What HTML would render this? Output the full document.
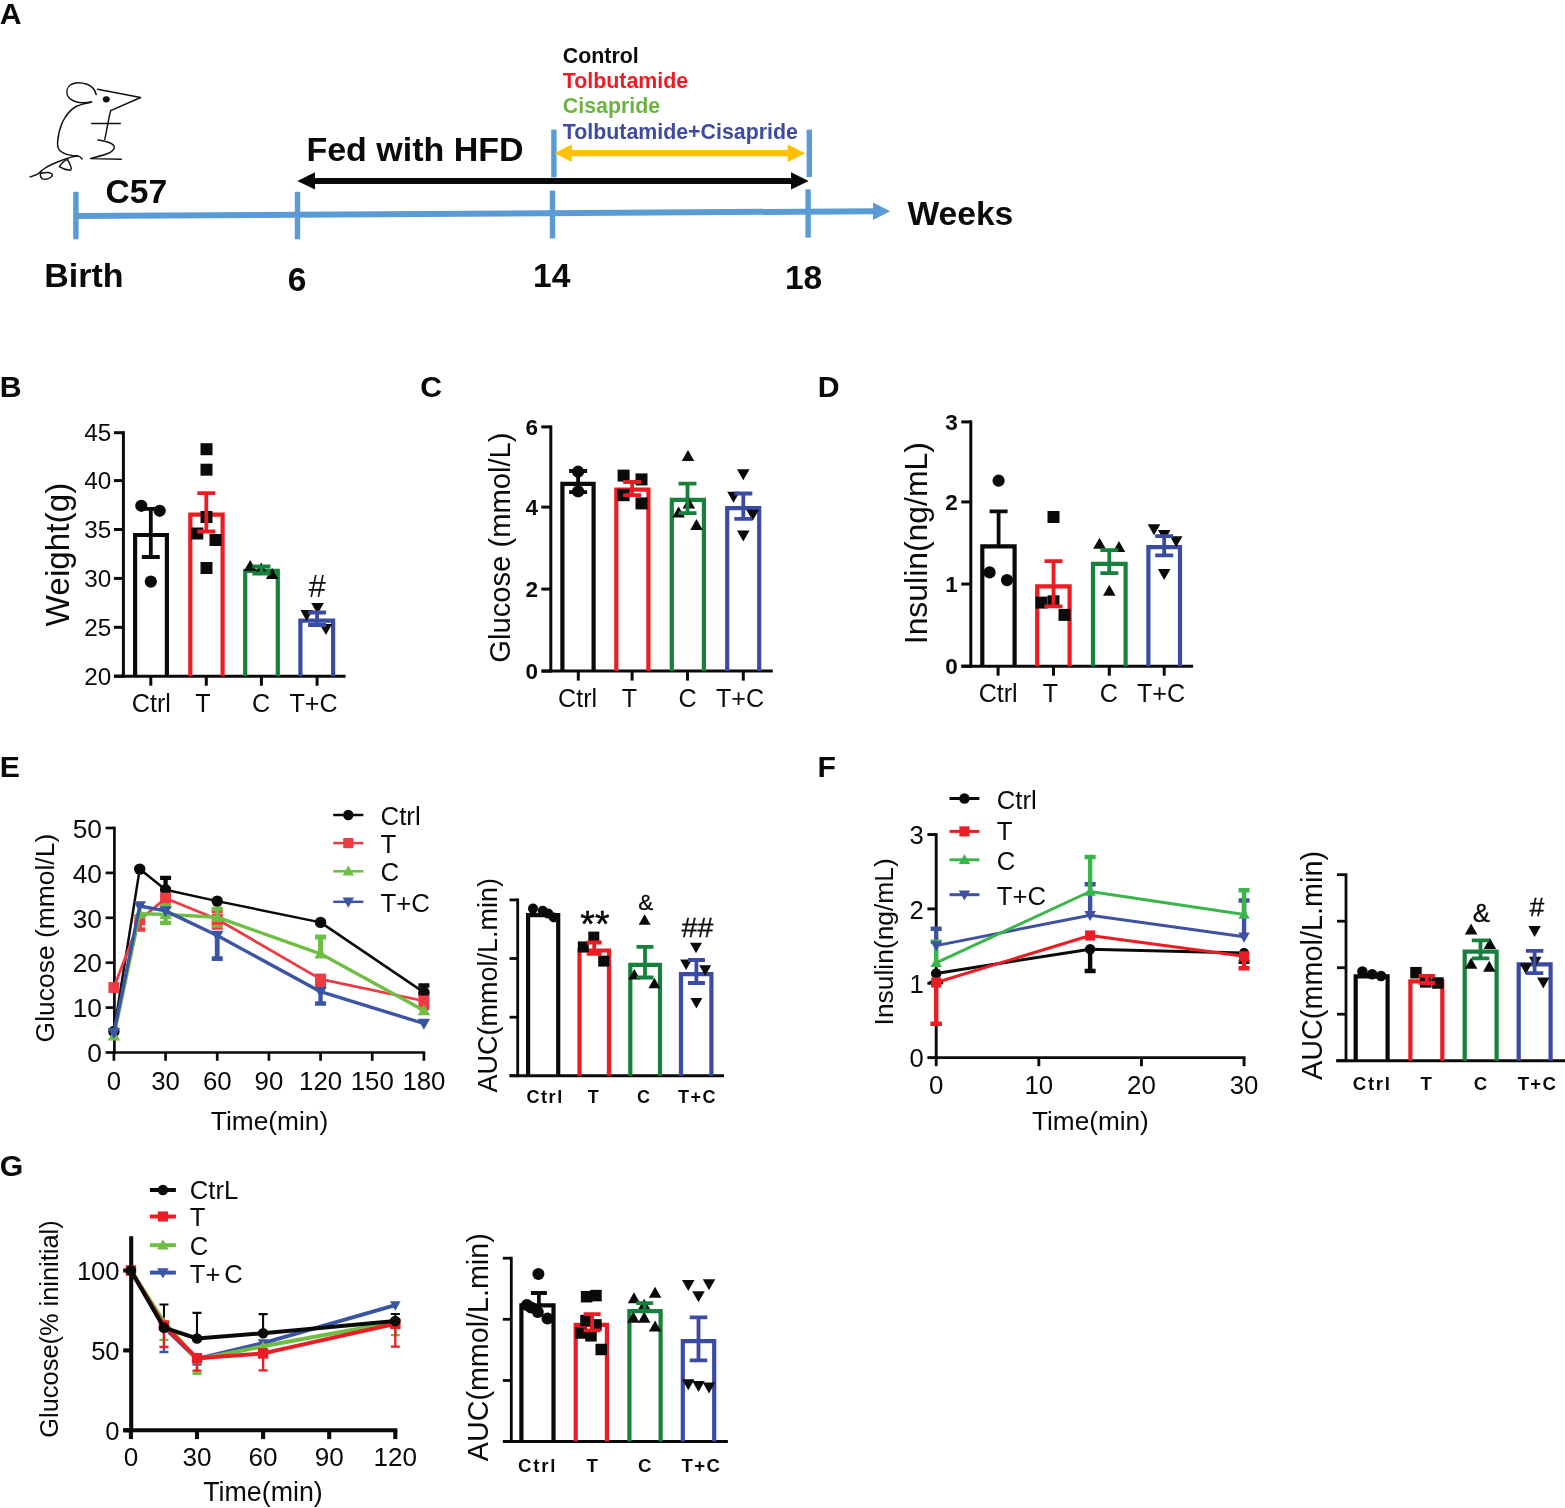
<!DOCTYPE html>
<html lang="en"><head><meta charset="utf-8"><title>Figure</title>
<style>
html,body{margin:0;padding:0;background:#fff;}
body{width:1565px;height:1508px;overflow:hidden;}
svg{display:block;font-family:"Liberation Sans",Arial,Helvetica,sans-serif;}
</style></head><body>
<svg width="1565" height="1508" viewBox="0 0 1565 1508">
<rect width="1565" height="1508" fill="#ffffff"/>
<text x="-0.3" y="24" font-size="30.2" font-weight="bold" text-anchor="start" fill="#0a0a0a">A</text>
<text x="-0.2" y="397.2" font-size="30.2" font-weight="bold" text-anchor="start" fill="#0a0a0a">B</text>
<text x="420.3" y="397.2" font-size="30.2" font-weight="bold" text-anchor="start" fill="#0a0a0a">C</text>
<text x="817.8" y="397.2" font-size="30.2" font-weight="bold" text-anchor="start" fill="#0a0a0a">D</text>
<text x="-0.2" y="777" font-size="30.2" font-weight="bold" text-anchor="start" fill="#0a0a0a">E</text>
<text x="817.4" y="777" font-size="30.2" font-weight="bold" text-anchor="start" fill="#0a0a0a">F</text>
<text x="-0.2" y="1176" font-size="30.2" font-weight="bold" text-anchor="start" fill="#0a0a0a">G</text>
<g id="panelA">
<line x1="75.9" y1="216" x2="875" y2="211.2" stroke="#5b9bd5" stroke-width="6" stroke-linecap="butt"/>
<polygon points="873,202.4 890.2,211.2 873,220.1" fill="#5b9bd5"/>
<line x1="75.9" y1="191.8" x2="75.9" y2="239.3" stroke="#5b9bd5" stroke-width="5.4" stroke-linecap="butt"/>
<line x1="297.5" y1="191.8" x2="297.5" y2="239.3" stroke="#5b9bd5" stroke-width="5.4" stroke-linecap="butt"/>
<line x1="552.5" y1="190.7" x2="552.5" y2="238.4" stroke="#5b9bd5" stroke-width="5.4" stroke-linecap="butt"/>
<line x1="808.1" y1="189.3" x2="808.1" y2="237.6" stroke="#5b9bd5" stroke-width="5.4" stroke-linecap="butt"/>
<line x1="553.9" y1="129.6" x2="553.9" y2="177.3" stroke="#5b9bd5" stroke-width="5.4" stroke-linecap="butt"/>
<line x1="809.3" y1="129.6" x2="809.3" y2="177.1" stroke="#5b9bd5" stroke-width="5.4" stroke-linecap="butt"/>
<line x1="570" y1="153.2" x2="790" y2="153.2" stroke="#ffc000" stroke-width="6.3" stroke-linecap="butt"/>
<polygon points="554.5,153.2 571.8,144.5 571.8,162" fill="#ffc000"/>
<polygon points="805.1,153.2 787.7,144.5 787.7,162" fill="#ffc000"/>
<line x1="313" y1="180.9" x2="793" y2="180.9" stroke="#0a0a0a" stroke-width="6" stroke-linecap="butt"/>
<polygon points="297.3,180.9 315,172.2 315,189.6" fill="#0a0a0a"/>
<polygon points="808.7,180.9 791,172.2 791,189.6" fill="#0a0a0a"/>
<text x="562.8" y="62.6" font-size="21.35" font-weight="bold" text-anchor="start" fill="#0a0a0a">Control</text>
<text x="562.8" y="87.8" font-size="21.35" font-weight="bold" text-anchor="start" fill="#ed1c24">Tolbutamide</text>
<text x="562.8" y="112.8" font-size="21.35" font-weight="bold" text-anchor="start" fill="#6cb33f">Cisapride</text>
<text x="562.8" y="139" font-size="21.35" font-weight="bold" text-anchor="start" fill="#3d4ba0">Tolbutamide+Cisapride</text>
<text x="306.4" y="161" font-size="34" font-weight="bold" text-anchor="start" fill="#0a0a0a">Fed with HFD</text>
<text x="105.5" y="203.2" font-size="33.6" font-weight="bold" text-anchor="start" fill="#0a0a0a">C57</text>
<text x="44.2" y="287" font-size="34" font-weight="bold" text-anchor="start" fill="#0a0a0a">Birth</text>
<text x="297" y="290.5" font-size="33.6" font-weight="bold" text-anchor="middle" fill="#0a0a0a">6</text>
<text x="551.8" y="287.2" font-size="33.6" font-weight="bold" text-anchor="middle" fill="#0a0a0a">14</text>
<text x="803.6" y="288.6" font-size="33.6" font-weight="bold" text-anchor="middle" fill="#0a0a0a">18</text>
<text x="907.5" y="225" font-size="33.6" font-weight="bold" text-anchor="start" fill="#0a0a0a">Weeks</text>
<g fill="none" stroke="#111" stroke-width="1.45" stroke-linecap="round" stroke-linejoin="round">
<path d="M96.2 94.5 C95 90 92 86 87 84.2 C82 82.6 75 82.3 71 84.5 C67 87 66 91.5 67.5 95.5 C69.5 100 76 102.6 82 102.8 C86 103 89 102.5 91.6 102"/>
<path d="M97.6 89.3 L140.6 97.5 L110.7 110.6"/>
<path d="M91.6 102 C85 103.5 80 104.5 76 106.5 C70 110 65.5 116 62.5 122 C59.5 129 58 136 57.6 142 C57.3 147 58.5 150 61 151.5 C64 153.8 68 155 72 155.5 C75 155.8 78 155.6 79.5 156.5 C80.7 157.3 81.5 158.3 82.1 159"/>
<path d="M110.7 110.6 C109.8 114 109.3 116 109 118 C107.5 126 106 133 104.8 139.3"/>
<path d="M91.6 123.5 L120.3 123.5"/>
<path d="M97.6 139.9 C101 140.5 105 141 108.4 142.2 C112 143.5 114.5 145 114.3 147.5 C114 150 112 151.5 109 153 C103 155.5 96 157 90.4 158.6 L121.3 159.3"/>
<path d="M77.5 155.8 C73 156.5 68 158 62 160.3 C56 162.5 49 165.5 44.5 168.5 C41 171 39.5 173 37.5 174.2 C35 175.5 32 176.3 30.1 176.9"/>
<path d="M68 158.8 C64 161 60.5 164 59.4 166.7 C62 168.5 66 170 69.5 170.3 C71.5 170 71.5 168.5 70.8 166.5 C70 164 68.8 161.5 67.5 159.8"/>
<path d="M41 171.2 C40 174 40.3 177 42 178.6 C44.5 179.8 48 179 50.5 177.5 C52.5 176.3 53 174.8 51.5 173.5 C49 172 45 172.3 41.5 173.3"/>
</g>
<ellipse cx="106.3" cy="99.3" rx="3.5" ry="3.1" fill="#111"/>
</g>
<g id="panelB">
<line x1="123.4" y1="431.2" x2="123.4" y2="677.7" stroke="#0a0a0a" stroke-width="3" stroke-linecap="butt"/>
<line x1="113.9" y1="676.2" x2="123.4" y2="676.2" stroke="#0a0a0a" stroke-width="3" stroke-linecap="butt"/>
<text x="111.4" y="684.5" font-size="24.3" font-weight="normal" text-anchor="end" fill="#0a0a0a">20</text>
<line x1="113.9" y1="627.3" x2="123.4" y2="627.3" stroke="#0a0a0a" stroke-width="3" stroke-linecap="butt"/>
<text x="111.4" y="635.6" font-size="24.3" font-weight="normal" text-anchor="end" fill="#0a0a0a">25</text>
<line x1="113.9" y1="578.4" x2="123.4" y2="578.4" stroke="#0a0a0a" stroke-width="3" stroke-linecap="butt"/>
<text x="111.4" y="586.7" font-size="24.3" font-weight="normal" text-anchor="end" fill="#0a0a0a">30</text>
<line x1="113.9" y1="529.5" x2="123.4" y2="529.5" stroke="#0a0a0a" stroke-width="3" stroke-linecap="butt"/>
<text x="111.4" y="537.8" font-size="24.3" font-weight="normal" text-anchor="end" fill="#0a0a0a">35</text>
<line x1="113.9" y1="480.6" x2="123.4" y2="480.6" stroke="#0a0a0a" stroke-width="3" stroke-linecap="butt"/>
<text x="111.4" y="488.9" font-size="24.3" font-weight="normal" text-anchor="end" fill="#0a0a0a">40</text>
<line x1="113.9" y1="432.7" x2="123.4" y2="432.7" stroke="#0a0a0a" stroke-width="3" stroke-linecap="butt"/>
<text x="111.4" y="441" font-size="24.3" font-weight="normal" text-anchor="end" fill="#0a0a0a">45</text>
<line x1="114.2" y1="676.2" x2="345.6" y2="676.2" stroke="#0a0a0a" stroke-width="3" stroke-linecap="butt"/>
<line x1="150.8" y1="676.2" x2="150.8" y2="685.7" stroke="#0a0a0a" stroke-width="3" stroke-linecap="butt"/>
<line x1="206.3" y1="676.2" x2="206.3" y2="685.7" stroke="#0a0a0a" stroke-width="3" stroke-linecap="butt"/>
<line x1="261.4" y1="676.2" x2="261.4" y2="685.7" stroke="#0a0a0a" stroke-width="3" stroke-linecap="butt"/>
<line x1="317.1" y1="676.2" x2="317.1" y2="685.7" stroke="#0a0a0a" stroke-width="3" stroke-linecap="butt"/>
<text x="69.3" y="554.6" font-size="33.3" font-weight="normal" text-anchor="middle" fill="#0a0a0a" transform="rotate(-90 69.3 554.6)">Weight(g)</text>
<text x="151.3" y="712.3" font-size="25.1" font-weight="normal" text-anchor="middle" fill="#0a0a0a">Ctrl</text>
<text x="203" y="712.3" font-size="25.1" font-weight="normal" text-anchor="middle" fill="#0a0a0a">T</text>
<text x="261" y="712.3" font-size="25.1" font-weight="normal" text-anchor="middle" fill="#0a0a0a">C</text>
<text x="313.5" y="712.3" font-size="25.1" font-weight="normal" text-anchor="middle" fill="#0a0a0a">T+C</text>
<path d="M135.1 676.2 V535 H166.9 V676.2" fill="none" stroke="#0a0a0a" stroke-width="4.2" stroke-linejoin="miter"/>
<path d="M190.3 676.2 V514.6 H222.6 V676.2" fill="none" stroke="#ec1c24" stroke-width="4.2" stroke-linejoin="miter"/>
<path d="M245.2 676.2 V570.8 H277.8 V676.2" fill="none" stroke="#17803d" stroke-width="4.2" stroke-linejoin="miter"/>
<path d="M300.4 676.2 V620.6 H333.1 V676.2" fill="none" stroke="#3b4ba3" stroke-width="4.2" stroke-linejoin="miter"/>
<circle cx="141.3" cy="505.8" r="6.1" fill="#0a0a0a"/>
<circle cx="159.7" cy="510.8" r="6.1" fill="#0a0a0a"/>
<circle cx="150.8" cy="581.6" r="6.1" fill="#0a0a0a"/>
<rect x="200.5" y="443.2" width="12" height="12" fill="#0a0a0a"/>
<rect x="200.5" y="463.7" width="12" height="12" fill="#0a0a0a"/>
<rect x="200.5" y="511" width="12" height="12" fill="#0a0a0a"/>
<rect x="191.3" y="527.5" width="12" height="12" fill="#0a0a0a"/>
<rect x="209.5" y="534" width="12" height="12" fill="#0a0a0a"/>
<rect x="200.5" y="562" width="12" height="12" fill="#0a0a0a"/>
<polygon points="250.2,560 243.9,571 256.5,571" fill="#0a0a0a"/>
<polygon points="261.2,562.5 254.9,573.5 267.5,573.5" fill="#0a0a0a"/>
<polygon points="272.2,568 265.9,579 278.5,579" fill="#0a0a0a"/>
<polygon points="317.5,614 311.2,603 323.8,603" fill="#0a0a0a"/>
<polygon points="306.7,621 300.4,610 313,610" fill="#0a0a0a"/>
<polygon points="325.9,635 319.6,624 332.2,624" fill="#0a0a0a"/>
<text x="317" y="597" font-size="31" font-weight="normal" text-anchor="middle" fill="#0a0a0a">#</text>
<path d="M141.8 508.8 H159.8 M141.8 557 H159.8 M150.8 508.8 V557" fill="none" stroke="#0a0a0a" stroke-width="3.8"/>
<path d="M197.3 493.2 H215.3 M197.3 531.5 H215.3 M206.3 493.2 V531.5" fill="none" stroke="#ec1c24" stroke-width="3.8"/>
<path d="M252.4 566.5 H270.4 M252.4 573.5 H270.4 M261.4 566.5 V573.5" fill="none" stroke="#17803d" stroke-width="3.8"/>
<path d="M308.1 612.5 H326.1 M308.1 625 H326.1 M317.1 612.5 V625" fill="none" stroke="#3b4ba3" stroke-width="3.8"/>
</g>
<g id="panelC">
<line x1="550.8" y1="425.4" x2="550.8" y2="672.6" stroke="#0a0a0a" stroke-width="3" stroke-linecap="butt"/>
<line x1="541.3" y1="671.1" x2="550.8" y2="671.1" stroke="#0a0a0a" stroke-width="3" stroke-linecap="butt"/>
<text x="537.9" y="679.36" font-size="22.5" font-weight="bold" text-anchor="end" fill="#0a0a0a">0</text>
<line x1="541.3" y1="589.1" x2="550.8" y2="589.1" stroke="#0a0a0a" stroke-width="3" stroke-linecap="butt"/>
<text x="537.9" y="597.36" font-size="22.5" font-weight="bold" text-anchor="end" fill="#0a0a0a">2</text>
<line x1="541.3" y1="507.1" x2="550.8" y2="507.1" stroke="#0a0a0a" stroke-width="3" stroke-linecap="butt"/>
<text x="537.9" y="515.36" font-size="22.5" font-weight="bold" text-anchor="end" fill="#0a0a0a">4</text>
<line x1="541.3" y1="426.9" x2="550.8" y2="426.9" stroke="#0a0a0a" stroke-width="3" stroke-linecap="butt"/>
<text x="537.9" y="435.15" font-size="22.5" font-weight="bold" text-anchor="end" fill="#0a0a0a">6</text>
<line x1="541.9" y1="671.1" x2="772.8" y2="671.1" stroke="#0a0a0a" stroke-width="3" stroke-linecap="butt"/>
<line x1="578.3" y1="671.1" x2="578.3" y2="680.6" stroke="#0a0a0a" stroke-width="3" stroke-linecap="butt"/>
<line x1="632.1" y1="671.1" x2="632.1" y2="680.6" stroke="#0a0a0a" stroke-width="3" stroke-linecap="butt"/>
<line x1="687.5" y1="671.1" x2="687.5" y2="680.6" stroke="#0a0a0a" stroke-width="3" stroke-linecap="butt"/>
<line x1="743.3" y1="671.1" x2="743.3" y2="680.6" stroke="#0a0a0a" stroke-width="3" stroke-linecap="butt"/>
<text x="509.6" y="547.6" font-size="29.2" font-weight="normal" text-anchor="middle" fill="#0a0a0a" transform="rotate(-90 509.6 547.6)">Glucose (mmol/L)</text>
<text x="577.6" y="707" font-size="25.1" font-weight="normal" text-anchor="middle" fill="#0a0a0a">Ctrl</text>
<text x="629.3" y="707" font-size="25.1" font-weight="normal" text-anchor="middle" fill="#0a0a0a">T</text>
<text x="687.5" y="707" font-size="25.1" font-weight="normal" text-anchor="middle" fill="#0a0a0a">C</text>
<text x="740" y="707" font-size="25.1" font-weight="normal" text-anchor="middle" fill="#0a0a0a">T+C</text>
<path d="M562.4 671.1 V483.8 H593.6 V671.1" fill="none" stroke="#0a0a0a" stroke-width="4.2" stroke-linejoin="miter"/>
<path d="M616.3 671.1 V489.7 H648.4 V671.1" fill="none" stroke="#ec1c24" stroke-width="4.2" stroke-linejoin="miter"/>
<path d="M671.8 671.1 V499.9 H703.9 V671.1" fill="none" stroke="#17803d" stroke-width="4.2" stroke-linejoin="miter"/>
<path d="M727.2 671.1 V508.1 H759.2 V671.1" fill="none" stroke="#3b4ba3" stroke-width="4.2" stroke-linejoin="miter"/>
<circle cx="578.1" cy="471.7" r="6.1" fill="#0a0a0a"/>
<circle cx="578.1" cy="491.4" r="6.1" fill="#0a0a0a"/>
<rect x="617.6" y="469.6" width="12" height="12" fill="#0a0a0a"/>
<rect x="635.5" y="473.4" width="12" height="12" fill="#0a0a0a"/>
<rect x="617.6" y="489.2" width="12" height="12" fill="#0a0a0a"/>
<rect x="635.5" y="497.4" width="12" height="12" fill="#0a0a0a"/>
<polygon points="688,450.1 681.7,461.1 694.3,461.1" fill="#0a0a0a"/>
<polygon points="678.6,506.4 672.3,517.4 684.9,517.4" fill="#0a0a0a"/>
<polygon points="688.8,497.4 682.5,508.4 695.1,508.4" fill="#0a0a0a"/>
<polygon points="696.5,519.1 690.2,530.1 702.8,530.1" fill="#0a0a0a"/>
<polygon points="743.3,480.3 737,469.3 749.6,469.3" fill="#0a0a0a"/>
<polygon points="733.5,502.8 727.2,491.8 739.8,491.8" fill="#0a0a0a"/>
<polygon points="752.7,520.7 746.4,509.7 759,509.7" fill="#0a0a0a"/>
<polygon points="743.3,541.6 737,530.6 749.6,530.6" fill="#0a0a0a"/>
<path d="M569.1 471 H587.1 M569.1 492.2 H587.1 M578.1 471 V492.2" fill="none" stroke="#0a0a0a" stroke-width="3.8"/>
<path d="M623.1 482 H641.1 M623.1 495.2 H641.1 M632.1 482 V495.2" fill="none" stroke="#ec1c24" stroke-width="3.8"/>
<path d="M678.5 483.7 H696.5 M678.5 513.1 H696.5 M687.5 483.7 V513.1" fill="none" stroke="#17803d" stroke-width="3.8"/>
<path d="M734.3 493.5 H752.3 M734.3 518.8 H752.3 M743.3 493.5 V518.8" fill="none" stroke="#3b4ba3" stroke-width="3.8"/>
</g>
<g id="panelD">
<line x1="970.8" y1="420.4" x2="970.8" y2="667.7" stroke="#0a0a0a" stroke-width="3" stroke-linecap="butt"/>
<line x1="961.3" y1="666.2" x2="970.8" y2="666.2" stroke="#0a0a0a" stroke-width="3" stroke-linecap="butt"/>
<text x="957.7" y="674.46" font-size="22.5" font-weight="bold" text-anchor="end" fill="#0a0a0a">0</text>
<line x1="961.3" y1="584.07" x2="970.8" y2="584.07" stroke="#0a0a0a" stroke-width="3" stroke-linecap="butt"/>
<text x="957.7" y="592.33" font-size="22.5" font-weight="bold" text-anchor="end" fill="#0a0a0a">1</text>
<line x1="961.3" y1="501.94" x2="970.8" y2="501.94" stroke="#0a0a0a" stroke-width="3" stroke-linecap="butt"/>
<text x="957.7" y="510.2" font-size="22.5" font-weight="bold" text-anchor="end" fill="#0a0a0a">2</text>
<line x1="961.3" y1="421.9" x2="970.8" y2="421.9" stroke="#0a0a0a" stroke-width="3" stroke-linecap="butt"/>
<text x="957.7" y="430.15" font-size="22.5" font-weight="bold" text-anchor="end" fill="#0a0a0a">3</text>
<line x1="961.5" y1="666.2" x2="1193.1" y2="666.2" stroke="#0a0a0a" stroke-width="3" stroke-linecap="butt"/>
<line x1="998.1" y1="666.2" x2="998.1" y2="675.7" stroke="#0a0a0a" stroke-width="3" stroke-linecap="butt"/>
<line x1="1053.5" y1="666.2" x2="1053.5" y2="675.7" stroke="#0a0a0a" stroke-width="3" stroke-linecap="butt"/>
<line x1="1109.3" y1="666.2" x2="1109.3" y2="675.7" stroke="#0a0a0a" stroke-width="3" stroke-linecap="butt"/>
<line x1="1164.2" y1="666.2" x2="1164.2" y2="675.7" stroke="#0a0a0a" stroke-width="3" stroke-linecap="butt"/>
<text x="927.3" y="543.2" font-size="31.9" font-weight="normal" text-anchor="middle" fill="#0a0a0a" transform="rotate(-90 927.3 543.2)">Insulin(ng/mL)</text>
<text x="998.2" y="702.3" font-size="25.1" font-weight="normal" text-anchor="middle" fill="#0a0a0a">Ctrl</text>
<text x="1050.5" y="702.3" font-size="25.1" font-weight="normal" text-anchor="middle" fill="#0a0a0a">T</text>
<text x="1108.8" y="702.3" font-size="25.1" font-weight="normal" text-anchor="middle" fill="#0a0a0a">C</text>
<text x="1161" y="702.3" font-size="25.1" font-weight="normal" text-anchor="middle" fill="#0a0a0a">T+C</text>
<path d="M982.3 666.2 V546.4 H1014.6 V666.2" fill="none" stroke="#0a0a0a" stroke-width="4.2" stroke-linejoin="miter"/>
<path d="M1037.2 666.2 V586.3 H1069.6 V666.2" fill="none" stroke="#ec1c24" stroke-width="4.2" stroke-linejoin="miter"/>
<path d="M1093 666.2 V563.8 H1125.6 V666.2" fill="none" stroke="#17803d" stroke-width="4.2" stroke-linejoin="miter"/>
<path d="M1148.4 666.2 V547.2 H1180 V666.2" fill="none" stroke="#3b4ba3" stroke-width="4.2" stroke-linejoin="miter"/>
<circle cx="998.6" cy="480.7" r="6.1" fill="#0a0a0a"/>
<circle cx="989.6" cy="572.4" r="6.1" fill="#0a0a0a"/>
<circle cx="1007" cy="580.1" r="6.1" fill="#0a0a0a"/>
<rect x="1047.5" y="511" width="12" height="12" fill="#0a0a0a"/>
<rect x="1035.5" y="596.6" width="12" height="12" fill="#0a0a0a"/>
<rect x="1047.5" y="595.3" width="12" height="12" fill="#0a0a0a"/>
<rect x="1058.5" y="608.9" width="12" height="12" fill="#0a0a0a"/>
<polygon points="1099.5,537.8 1093.2,548.8 1105.8,548.8" fill="#0a0a0a"/>
<polygon points="1119,540.9 1112.7,551.9 1125.3,551.9" fill="#0a0a0a"/>
<polygon points="1109.3,584.8 1103,595.8 1115.6,595.8" fill="#0a0a0a"/>
<polygon points="1154,535.2 1147.7,524.2 1160.3,524.2" fill="#0a0a0a"/>
<polygon points="1164.2,541.1 1157.9,530.1 1170.5,530.1" fill="#0a0a0a"/>
<polygon points="1176.2,547.3 1169.9,536.3 1182.5,536.3" fill="#0a0a0a"/>
<polygon points="1164.2,580 1157.9,569 1170.5,569" fill="#0a0a0a"/>
<path d="M989.6 511.3 H1007.6 M998.6 511.3 V546" fill="none" stroke="#0a0a0a" stroke-width="3.8"/>
<path d="M1044.5 561.2 H1062.5 M1044.5 606.4 H1062.5 M1053.5 561.2 V606.4" fill="none" stroke="#ec1c24" stroke-width="3.8"/>
<path d="M1100.3 550.2 H1118.3 M1100.3 573.2 H1118.3 M1109.3 550.2 V573.2" fill="none" stroke="#17803d" stroke-width="3.8"/>
<path d="M1155.2 536.1 H1173.2 M1155.2 555.3 H1173.2 M1164.2 536.1 V555.3" fill="none" stroke="#3b4ba3" stroke-width="3.8"/>
</g>
<g id="panelE">
<line x1="114.4" y1="826.65" x2="114.4" y2="1053.85" stroke="#0a0a0a" stroke-width="2.7" stroke-linecap="butt"/>
<line x1="105.6" y1="1052.5" x2="114.4" y2="1052.5" stroke="#0a0a0a" stroke-width="2.7" stroke-linecap="butt"/>
<text x="102" y="1062.22" font-size="26.3" font-weight="normal" text-anchor="end" fill="#0a0a0a">0</text>
<line x1="105.6" y1="1007.6" x2="114.4" y2="1007.6" stroke="#0a0a0a" stroke-width="2.7" stroke-linecap="butt"/>
<text x="102" y="1017.32" font-size="26.3" font-weight="normal" text-anchor="end" fill="#0a0a0a">10</text>
<line x1="105.6" y1="962.7" x2="114.4" y2="962.7" stroke="#0a0a0a" stroke-width="2.7" stroke-linecap="butt"/>
<text x="102" y="972.42" font-size="26.3" font-weight="normal" text-anchor="end" fill="#0a0a0a">20</text>
<line x1="105.6" y1="917.8" x2="114.4" y2="917.8" stroke="#0a0a0a" stroke-width="2.7" stroke-linecap="butt"/>
<text x="102" y="927.52" font-size="26.3" font-weight="normal" text-anchor="end" fill="#0a0a0a">30</text>
<line x1="105.6" y1="872.9" x2="114.4" y2="872.9" stroke="#0a0a0a" stroke-width="2.7" stroke-linecap="butt"/>
<text x="102" y="882.62" font-size="26.3" font-weight="normal" text-anchor="end" fill="#0a0a0a">40</text>
<line x1="105.6" y1="828" x2="114.4" y2="828" stroke="#0a0a0a" stroke-width="2.7" stroke-linecap="butt"/>
<text x="102" y="837.72" font-size="26.3" font-weight="normal" text-anchor="end" fill="#0a0a0a">50</text>
<line x1="113" y1="1052.5" x2="425.2" y2="1052.5" stroke="#0a0a0a" stroke-width="2.7" stroke-linecap="butt"/>
<line x1="113.9" y1="1052.5" x2="113.9" y2="1060.8" stroke="#0a0a0a" stroke-width="2.7" stroke-linecap="butt"/>
<line x1="165.57" y1="1052.5" x2="165.57" y2="1060.8" stroke="#0a0a0a" stroke-width="2.7" stroke-linecap="butt"/>
<line x1="217.23" y1="1052.5" x2="217.23" y2="1060.8" stroke="#0a0a0a" stroke-width="2.7" stroke-linecap="butt"/>
<line x1="268.9" y1="1052.5" x2="268.9" y2="1060.8" stroke="#0a0a0a" stroke-width="2.7" stroke-linecap="butt"/>
<line x1="320.56" y1="1052.5" x2="320.56" y2="1060.8" stroke="#0a0a0a" stroke-width="2.7" stroke-linecap="butt"/>
<line x1="372.23" y1="1052.5" x2="372.23" y2="1060.8" stroke="#0a0a0a" stroke-width="2.7" stroke-linecap="butt"/>
<line x1="423.9" y1="1052.5" x2="423.9" y2="1060.8" stroke="#0a0a0a" stroke-width="2.7" stroke-linecap="butt"/>
<text x="113.9" y="1089.8" font-size="25.8" font-weight="normal" text-anchor="middle" fill="#0a0a0a">0</text>
<text x="165.57" y="1089.8" font-size="25.8" font-weight="normal" text-anchor="middle" fill="#0a0a0a">30</text>
<text x="217.23" y="1089.8" font-size="25.8" font-weight="normal" text-anchor="middle" fill="#0a0a0a">60</text>
<text x="268.9" y="1089.8" font-size="25.8" font-weight="normal" text-anchor="middle" fill="#0a0a0a">90</text>
<text x="320.56" y="1089.8" font-size="25.8" font-weight="normal" text-anchor="middle" fill="#0a0a0a">120</text>
<text x="372.23" y="1089.8" font-size="25.8" font-weight="normal" text-anchor="middle" fill="#0a0a0a">150</text>
<text x="423.9" y="1089.8" font-size="25.8" font-weight="normal" text-anchor="middle" fill="#0a0a0a">180</text>
<text x="269.5" y="1129.6" font-size="26.3" font-weight="normal" text-anchor="middle" fill="#0a0a0a">Time(min)</text>
<text x="53.7" y="938.1" font-size="26.45" font-weight="normal" text-anchor="middle" fill="#0a0a0a" transform="rotate(-90 53.7 938.1)">Glucose (mmol/L)</text>
<path d="M160.07 877.9 H171.07 M165.57 877.9 V889.8" fill="none" stroke="#0a0a0a" stroke-width="4.3"/>
<path d="M418.4 985.5 H429.4 M423.9 985.5 V992.4" fill="none" stroke="#0a0a0a" stroke-width="4.3"/>
<path d="M134.23 929.5 H145.23 M139.73 929.5 V920" fill="none" stroke="#ee3a43" stroke-width="4.3"/>
<path d="M211.73 927.5 H222.73 M217.23 927.5 V919.3 M211.73 911.1 H222.73 M217.23 911.1 V919.3" fill="none" stroke="#ee3a43" stroke-width="4.3"/>
<path d="M315.06 986 H326.06 M320.56 986 V979.1" fill="none" stroke="#ee3a43" stroke-width="4.3"/>
<path d="M418.4 1008 H429.4 M423.9 1008 V1001 M418.4 994 H429.4 M423.9 994 V1001" fill="none" stroke="#ee3a43" stroke-width="4.3"/>
<path d="M160.07 906 H171.07 M165.57 906 V914.4 M160.07 922.8 H171.07 M165.57 922.8 V914.4" fill="none" stroke="#6fbe44" stroke-width="4.3"/>
<path d="M211.73 908.8 H222.73 M217.23 908.8 V917.2 M211.73 925.6 H222.73 M217.23 925.6 V917.2" fill="none" stroke="#6fbe44" stroke-width="4.3"/>
<path d="M315.06 936.9 H326.06 M320.56 936.9 V953.8" fill="none" stroke="#6fbe44" stroke-width="5"/>
<path d="M211.73 958.7 H222.73 M217.23 958.7 V935.5" fill="none" stroke="#3b55a5" stroke-width="4.8"/>
<path d="M315.06 1003.5 H326.06 M320.56 1003.5 V991.7" fill="none" stroke="#3b55a5" stroke-width="4.3"/>
<polyline points="113.9,1031.5 139.73,869.1 165.57,889.8 217.23,901.1 320.56,922.4 423.9,992.4" fill="none" stroke="#0a0a0a" stroke-width="2.5" stroke-linejoin="round"/>
<circle cx="113.9" cy="1031.5" r="5.7" fill="#0a0a0a"/>
<circle cx="139.73" cy="869.1" r="5.7" fill="#0a0a0a"/>
<circle cx="165.57" cy="889.8" r="5.7" fill="#0a0a0a"/>
<circle cx="217.23" cy="901.1" r="5.7" fill="#0a0a0a"/>
<circle cx="320.56" cy="922.4" r="5.7" fill="#0a0a0a"/>
<circle cx="423.9" cy="992.4" r="5.7" fill="#0a0a0a"/>
<polyline points="113.9,987.6 139.73,920 165.57,898.2 217.23,919.3 320.56,979.1 423.9,1001" fill="none" stroke="#ee3a43" stroke-width="2.8" stroke-linejoin="round"/>
<rect x="108.4" y="982.1" width="11" height="11" fill="#ee3a43"/>
<rect x="134.23" y="914.5" width="11" height="11" fill="#ee3a43"/>
<rect x="160.07" y="892.7" width="11" height="11" fill="#ee3a43"/>
<rect x="211.73" y="913.8" width="11" height="11" fill="#ee3a43"/>
<rect x="315.06" y="973.6" width="11" height="11" fill="#ee3a43"/>
<rect x="418.4" y="995.5" width="11" height="11" fill="#ee3a43"/>
<polyline points="113.9,1035.8 139.73,913.7 165.57,914.4 217.23,917.2 320.56,953.8 423.9,1010.5" fill="none" stroke="#6fbe44" stroke-width="3.4" stroke-linejoin="round"/>
<polygon points="113.9,1029.5 107.65,1040.5 120.15,1040.5" fill="#6fbe44"/>
<polygon points="139.73,907.4 133.48,918.4 145.98,918.4" fill="#6fbe44"/>
<polygon points="165.57,908.1 159.32,919.1 171.82,919.1" fill="#6fbe44"/>
<polygon points="217.23,910.9 210.98,921.9 223.48,921.9" fill="#6fbe44"/>
<polygon points="320.56,947.5 314.31,958.5 326.81,958.5" fill="#6fbe44"/>
<polygon points="423.9,1004.2 417.65,1015.2 430.15,1015.2" fill="#6fbe44"/>
<polyline points="113.9,1032.8 139.73,906 165.57,910.9 217.23,935.5 320.56,991.7 423.9,1023.5" fill="none" stroke="#3b55a5" stroke-width="3.4" stroke-linejoin="round"/>
<polygon points="113.9,1039.1 107.65,1028.1 120.15,1028.1" fill="#3b55a5"/>
<polygon points="139.73,912.3 133.48,901.3 145.98,901.3" fill="#3b55a5"/>
<polygon points="165.57,917.2 159.32,906.2 171.82,906.2" fill="#3b55a5"/>
<polygon points="217.23,941.8 210.98,930.8 223.48,930.8" fill="#3b55a5"/>
<polygon points="320.56,998 314.31,987 326.81,987" fill="#3b55a5"/>
<polygon points="423.9,1029.8 417.65,1018.8 430.15,1018.8" fill="#3b55a5"/>
<line x1="333.2" y1="815" x2="363.4" y2="815" stroke="#0a0a0a" stroke-width="2.5" stroke-linecap="butt"/>
<circle cx="348.3" cy="815" r="5.24" fill="#0a0a0a"/>
<text x="380.5" y="825.1" font-size="25.8" font-weight="normal" text-anchor="start" fill="#0a0a0a">Ctrl</text>
<line x1="333.2" y1="843.1" x2="363.4" y2="843.1" stroke="#ee3a43" stroke-width="2.5" stroke-linecap="butt"/>
<rect x="343.24" y="838.04" width="10.12" height="10.12" fill="#ee3a43"/>
<text x="380.5" y="853.3" font-size="25.8" font-weight="normal" text-anchor="start" fill="#0a0a0a">T</text>
<line x1="333.2" y1="871.3" x2="363.4" y2="871.3" stroke="#6fbe44" stroke-width="2.5" stroke-linecap="butt"/>
<polygon points="348.3,865.44 342.55,875.56 354.05,875.56" fill="#6fbe44"/>
<text x="380.5" y="881.4" font-size="25.8" font-weight="normal" text-anchor="start" fill="#0a0a0a">C</text>
<line x1="333.2" y1="901.8" x2="363.4" y2="901.8" stroke="#3b55a5" stroke-width="2.5" stroke-linecap="butt"/>
<polygon points="348.3,907.66 342.55,897.54 354.05,897.54" fill="#3b55a5"/>
<text x="380.5" y="912.3" font-size="25.8" font-weight="normal" text-anchor="start" fill="#0a0a0a">T+C</text>
</g>
<g id="panelEb">
<line x1="517.7" y1="898.5" x2="517.7" y2="1077.1" stroke="#0a0a0a" stroke-width="2.8" stroke-linecap="butt"/>
<line x1="509.5" y1="899.9" x2="517.7" y2="899.9" stroke="#0a0a0a" stroke-width="2.8" stroke-linecap="butt"/>
<line x1="509.5" y1="958.5" x2="517.7" y2="958.5" stroke="#0a0a0a" stroke-width="2.8" stroke-linecap="butt"/>
<line x1="509.5" y1="1017.2" x2="517.7" y2="1017.2" stroke="#0a0a0a" stroke-width="2.8" stroke-linecap="butt"/>
<line x1="509.5" y1="1075.7" x2="517.7" y2="1075.7" stroke="#0a0a0a" stroke-width="2.8" stroke-linecap="butt"/>
<line x1="509.6" y1="1075.7" x2="724" y2="1075.7" stroke="#0a0a0a" stroke-width="3" stroke-linecap="butt"/>
<text x="497.3" y="985.2" font-size="27" font-weight="normal" text-anchor="middle" fill="#0a0a0a" transform="rotate(-90 497.3 985.2)">AUC(mmol/L.min)</text>
<text x="545.1" y="1102.9" font-size="18" font-weight="bold" text-anchor="middle" fill="#0a0a0a" letter-spacing="1.6">Ctrl</text>
<text x="593.65" y="1102.9" font-size="18" font-weight="bold" text-anchor="middle" fill="#0a0a0a" letter-spacing="0.9">T</text>
<text x="643.95" y="1102.9" font-size="18" font-weight="bold" text-anchor="middle" fill="#0a0a0a" letter-spacing="0.9">C</text>
<text x="697.55" y="1102.9" font-size="18" font-weight="bold" text-anchor="middle" fill="#0a0a0a" letter-spacing="1.5">T+C</text>
<path d="M528.1 1075.7 V915.1 H558.2 V1075.7" fill="none" stroke="#0a0a0a" stroke-width="4.2" stroke-linejoin="miter"/>
<path d="M579.5 1075.7 V950.5 H609 V1075.7" fill="none" stroke="#ec1c24" stroke-width="4.2" stroke-linejoin="miter"/>
<path d="M630.3 1075.7 V964.8 H660 V1075.7" fill="none" stroke="#17803d" stroke-width="4.2" stroke-linejoin="miter"/>
<path d="M681 1075.7 V974.2 H711.4 V1075.7" fill="none" stroke="#3b4ba3" stroke-width="4.2" stroke-linejoin="miter"/>
<circle cx="533" cy="908.6" r="5" fill="#0a0a0a"/>
<circle cx="542.8" cy="910.8" r="5" fill="#0a0a0a"/>
<circle cx="548.3" cy="913.6" r="5" fill="#0a0a0a"/>
<circle cx="553.8" cy="917.4" r="5" fill="#0a0a0a"/>
<rect x="577.8" y="941.4" width="11" height="11" fill="#0a0a0a"/>
<rect x="588.3" y="931.6" width="11" height="11" fill="#0a0a0a"/>
<rect x="598.2" y="955.6" width="11" height="11" fill="#0a0a0a"/>
<polygon points="644.6,914.25 638.6,924.75 650.6,924.75" fill="#0a0a0a"/>
<polygon points="634.3,968.95 628.3,979.45 640.3,979.45" fill="#0a0a0a"/>
<polygon points="654.4,977.75 648.4,988.25 660.4,988.25" fill="#0a0a0a"/>
<polygon points="696,953.25 690,942.75 702,942.75" fill="#0a0a0a"/>
<polygon points="686.1,970.05 680.1,959.55 692.1,959.55" fill="#0a0a0a"/>
<polygon points="705.2,975.75 699.2,965.25 711.2,965.25" fill="#0a0a0a"/>
<polygon points="696.4,1008.55 690.4,998.05 702.4,998.05" fill="#0a0a0a"/>
<text x="594.9" y="936.5" font-size="37.5" font-weight="normal" text-anchor="middle" fill="#0a0a0a" stroke="#0a0a0a" stroke-width="0.5">**</text>
<text x="645.7" y="909.8" font-size="22.5" font-weight="normal" text-anchor="middle" fill="#0a0a0a" stroke="#0a0a0a" stroke-width="0.3">&amp;</text>
<text x="697.4" y="937.3" font-size="28.5" font-weight="normal" text-anchor="middle" fill="#0a0a0a" stroke="#0a0a0a" stroke-width="0.3">##</text>
<path d="M586.7 942.5 H601.7 M586.7 953.9 H601.7 M594.2 942.5 V953.9" fill="none" stroke="#ec1c24" stroke-width="3.8"/>
<path d="M636.5 946.9 H653.5 M636.5 977.5 H653.5 M645 946.9 V977.5" fill="none" stroke="#17803d" stroke-width="3.8"/>
<path d="M687.9 960 H704.9 M687.9 983 H704.9 M696.4 960 V983" fill="none" stroke="#3b4ba3" stroke-width="3.8"/>
</g>
<g id="panelF">
<line x1="936.2" y1="833.1" x2="936.2" y2="1059.05" stroke="#0a0a0a" stroke-width="2.9" stroke-linecap="butt"/>
<line x1="927.4" y1="1057.6" x2="936.2" y2="1057.6" stroke="#0a0a0a" stroke-width="2.9" stroke-linecap="butt"/>
<text x="923.8" y="1067.26" font-size="25.6" font-weight="normal" text-anchor="end" fill="#0a0a0a">0</text>
<line x1="927.4" y1="983.25" x2="936.2" y2="983.25" stroke="#0a0a0a" stroke-width="2.9" stroke-linecap="butt"/>
<text x="923.8" y="992.91" font-size="25.6" font-weight="normal" text-anchor="end" fill="#0a0a0a">1</text>
<line x1="927.4" y1="908.9" x2="936.2" y2="908.9" stroke="#0a0a0a" stroke-width="2.9" stroke-linecap="butt"/>
<text x="923.8" y="918.56" font-size="25.6" font-weight="normal" text-anchor="end" fill="#0a0a0a">2</text>
<line x1="927.4" y1="834.55" x2="936.2" y2="834.55" stroke="#0a0a0a" stroke-width="2.9" stroke-linecap="butt"/>
<text x="923.8" y="844.21" font-size="25.6" font-weight="normal" text-anchor="end" fill="#0a0a0a">3</text>
<line x1="934.8" y1="1057.6" x2="1245.51" y2="1057.6" stroke="#0a0a0a" stroke-width="2.9" stroke-linecap="butt"/>
<line x1="936.2" y1="1057.6" x2="936.2" y2="1066.2" stroke="#0a0a0a" stroke-width="2.9" stroke-linecap="butt"/>
<line x1="1038.82" y1="1057.6" x2="1038.82" y2="1066.2" stroke="#0a0a0a" stroke-width="2.9" stroke-linecap="butt"/>
<line x1="1141.44" y1="1057.6" x2="1141.44" y2="1066.2" stroke="#0a0a0a" stroke-width="2.9" stroke-linecap="butt"/>
<line x1="1244.06" y1="1057.6" x2="1244.06" y2="1066.2" stroke="#0a0a0a" stroke-width="2.9" stroke-linecap="butt"/>
<text x="936.2" y="1093.8" font-size="25.8" font-weight="normal" text-anchor="middle" fill="#0a0a0a">0</text>
<text x="1038.82" y="1093.8" font-size="25.8" font-weight="normal" text-anchor="middle" fill="#0a0a0a">10</text>
<text x="1141.44" y="1093.8" font-size="25.8" font-weight="normal" text-anchor="middle" fill="#0a0a0a">20</text>
<text x="1244.06" y="1093.8" font-size="25.8" font-weight="normal" text-anchor="middle" fill="#0a0a0a">30</text>
<text x="1090.4" y="1130" font-size="26.2" font-weight="normal" text-anchor="middle" fill="#0a0a0a">Time(min)</text>
<text x="893.3" y="941.8" font-size="26.4" font-weight="normal" text-anchor="middle" fill="#0a0a0a" transform="rotate(-90 893.3 941.8)">Insulin(ng/mL)</text>
<path d="M929.2 982.5 H943.2 M936.2 982.5 V973.4" fill="none" stroke="#0a0a0a" stroke-width="3.4"/>
<path d="M1084.63 971 H1095.63 M1090.13 971 V949.2" fill="none" stroke="#0a0a0a" stroke-width="4.4"/>
<path d="M1238.56 961.9 H1249.56 M1244.06 961.9 V953.1" fill="none" stroke="#0a0a0a" stroke-width="4.4"/>
<path d="M930.45 1023.7 H941.95 M936.2 1023.7 V982.5" fill="none" stroke="#ec1c24" stroke-width="4.4"/>
<path d="M1238.56 968.2 H1249.56 M1244.06 968.2 V956.3" fill="none" stroke="#ec1c24" stroke-width="4.4"/>
<path d="M930.7 928.8 H941.7 M936.2 928.8 V945.6" fill="none" stroke="#3f51a3" stroke-width="4.4"/>
<path d="M1084.63 884.3 H1095.63 M1090.13 884.3 V915.2" fill="none" stroke="#3f51a3" stroke-width="4.4"/>
<path d="M1238.56 900.5 H1249.56 M1244.06 900.5 V936.8" fill="none" stroke="#3f51a3" stroke-width="4.4"/>
<path d="M930.7 941.8 H941.7 M936.2 941.8 V962.8" fill="none" stroke="#3ab54a" stroke-width="4.4"/>
<path d="M1084.63 857 H1095.63 M1090.13 857 V891.5" fill="none" stroke="#3ab54a" stroke-width="4.4"/>
<path d="M1238.56 890.2 H1249.56 M1244.06 890.2 V914.5" fill="none" stroke="#3ab54a" stroke-width="4.4"/>
<polyline points="936.2,973.4 1090.13,949.2 1244.06,953.1" fill="none" stroke="#0a0a0a" stroke-width="3" stroke-linejoin="round"/>
<circle cx="936.2" cy="973.4" r="5.24" fill="#0a0a0a"/>
<circle cx="1090.13" cy="949.2" r="5.24" fill="#0a0a0a"/>
<circle cx="1244.06" cy="953.1" r="5.24" fill="#0a0a0a"/>
<polyline points="936.2,982.5 1090.13,935.5 1244.06,956.3" fill="none" stroke="#ec1c24" stroke-width="3" stroke-linejoin="round"/>
<rect x="931.14" y="977.44" width="10.12" height="10.12" fill="#ec1c24"/>
<rect x="1085.07" y="930.44" width="10.12" height="10.12" fill="#ec1c24"/>
<rect x="1239" y="951.24" width="10.12" height="10.12" fill="#ec1c24"/>
<polyline points="936.2,945.6 1090.13,915.2 1244.06,936.8" fill="none" stroke="#3f51a3" stroke-width="3" stroke-linejoin="round"/>
<polygon points="936.2,951.46 930.45,941.34 941.95,941.34" fill="#3f51a3"/>
<polygon points="1090.13,921.06 1084.38,910.94 1095.88,910.94" fill="#3f51a3"/>
<polygon points="1244.06,942.66 1238.31,932.54 1249.81,932.54" fill="#3f51a3"/>
<polyline points="936.2,962.8 1090.13,891.5 1244.06,914.5" fill="none" stroke="#3ab54a" stroke-width="3" stroke-linejoin="round"/>
<polygon points="936.2,956.94 930.45,967.06 941.95,967.06" fill="#3ab54a"/>
<polygon points="1090.13,885.64 1084.38,895.76 1095.88,895.76" fill="#3ab54a"/>
<polygon points="1244.06,908.64 1238.31,918.76 1249.81,918.76" fill="#3ab54a"/>
<line x1="949.5" y1="798.5" x2="979.4" y2="798.5" stroke="#0a0a0a" stroke-width="3" stroke-linecap="butt"/>
<circle cx="964.45" cy="798.5" r="5.24" fill="#0a0a0a"/>
<text x="996.8" y="808.9" font-size="25.7" font-weight="normal" text-anchor="start" fill="#0a0a0a">Ctrl</text>
<line x1="949.5" y1="831.4" x2="979.4" y2="831.4" stroke="#ec1c24" stroke-width="3" stroke-linecap="butt"/>
<rect x="959.39" y="826.34" width="10.12" height="10.12" fill="#ec1c24"/>
<text x="996.8" y="839.9" font-size="25.7" font-weight="normal" text-anchor="start" fill="#0a0a0a">T</text>
<line x1="949.5" y1="859.8" x2="979.4" y2="859.8" stroke="#3ab54a" stroke-width="3" stroke-linecap="butt"/>
<polygon points="964.45,853.94 958.7,864.06 970.2,864.06" fill="#3ab54a"/>
<text x="996.8" y="870.1" font-size="25.7" font-weight="normal" text-anchor="start" fill="#0a0a0a">C</text>
<line x1="949.5" y1="894.7" x2="979.4" y2="894.7" stroke="#3f51a3" stroke-width="3" stroke-linecap="butt"/>
<polygon points="964.45,900.56 958.7,890.44 970.2,890.44" fill="#3f51a3"/>
<text x="996.8" y="905.2" font-size="25.7" font-weight="normal" text-anchor="start" fill="#0a0a0a">T+C</text>
</g>
<g id="panelFb">
<line x1="1346" y1="873.3" x2="1346" y2="1062.1" stroke="#0a0a0a" stroke-width="2.8" stroke-linecap="butt"/>
<line x1="1337" y1="874.7" x2="1346" y2="874.7" stroke="#0a0a0a" stroke-width="2.8" stroke-linecap="butt"/>
<line x1="1337" y1="921.2" x2="1346" y2="921.2" stroke="#0a0a0a" stroke-width="2.8" stroke-linecap="butt"/>
<line x1="1337" y1="967.7" x2="1346" y2="967.7" stroke="#0a0a0a" stroke-width="2.8" stroke-linecap="butt"/>
<line x1="1337" y1="1014.2" x2="1346" y2="1014.2" stroke="#0a0a0a" stroke-width="2.8" stroke-linecap="butt"/>
<line x1="1337" y1="1060.7" x2="1346" y2="1060.7" stroke="#0a0a0a" stroke-width="2.8" stroke-linecap="butt"/>
<line x1="1336.1" y1="1060.7" x2="1566" y2="1060.7" stroke="#0a0a0a" stroke-width="3" stroke-linecap="butt"/>
<text x="1322.3" y="965.5" font-size="28.85" font-weight="normal" text-anchor="middle" fill="#0a0a0a" transform="rotate(-90 1322.3 965.5)">AUC(mmol/L.min)</text>
<text x="1372.25" y="1090.3" font-size="18.6" font-weight="bold" text-anchor="middle" fill="#0a0a0a" letter-spacing="1.7">Ctrl</text>
<text x="1426.75" y="1090.3" font-size="18.6" font-weight="bold" text-anchor="middle" fill="#0a0a0a" letter-spacing="0.9">T</text>
<text x="1480.95" y="1090.3" font-size="18.6" font-weight="bold" text-anchor="middle" fill="#0a0a0a" letter-spacing="0.9">C</text>
<text x="1537.4" y="1090.3" font-size="18.6" font-weight="bold" text-anchor="middle" fill="#0a0a0a" letter-spacing="1.2">T+C</text>
<path d="M1355.7 1060.7 V976.4 H1387.6 V1060.7" fill="none" stroke="#0a0a0a" stroke-width="4.2" stroke-linejoin="miter"/>
<path d="M1410.4 1060.7 V981.4 H1442.3 V1060.7" fill="none" stroke="#ec1c24" stroke-width="4.2" stroke-linejoin="miter"/>
<path d="M1464.7 1060.7 V951.6 H1496.6 V1060.7" fill="none" stroke="#17803d" stroke-width="4.2" stroke-linejoin="miter"/>
<path d="M1518.7 1060.7 V964.3 H1550.6 V1060.7" fill="none" stroke="#3b4ba3" stroke-width="4.2" stroke-linejoin="miter"/>
<circle cx="1362.4" cy="971.6" r="5.3" fill="#0a0a0a"/>
<circle cx="1372.2" cy="974.3" r="5.3" fill="#0a0a0a"/>
<circle cx="1381" cy="976" r="5.3" fill="#0a0a0a"/>
<rect x="1410.25" y="966.95" width="11.5" height="11.5" fill="#0a0a0a"/>
<rect x="1420.05" y="976.15" width="11.5" height="11.5" fill="#0a0a0a"/>
<rect x="1432.15" y="977.25" width="11.5" height="11.5" fill="#0a0a0a"/>
<polygon points="1471.1,923.5 1464.85,934.5 1477.35,934.5" fill="#0a0a0a"/>
<polygon points="1489.9,938.1 1483.65,949.1 1496.15,949.1" fill="#0a0a0a"/>
<polygon points="1471.1,957.8 1464.85,968.8 1477.35,968.8" fill="#0a0a0a"/>
<polygon points="1489.3,960.7 1483.05,971.7 1495.55,971.7" fill="#0a0a0a"/>
<polygon points="1534.6,937.1 1528.35,926.1 1540.85,926.1" fill="#0a0a0a"/>
<polygon points="1525.8,974.3 1519.55,963.3 1532.05,963.3" fill="#0a0a0a"/>
<polygon points="1535.2,967.7 1528.95,956.7 1541.45,956.7" fill="#0a0a0a"/>
<polygon points="1543.3,988.5 1537.05,977.5 1549.55,977.5" fill="#0a0a0a"/>
<text x="1481.4" y="921.8" font-size="26" font-weight="normal" text-anchor="middle" fill="#0a0a0a" stroke="#0a0a0a" stroke-width="0.3">&amp;</text>
<text x="1536.8" y="916.4" font-size="26.5" font-weight="normal" text-anchor="middle" fill="#0a0a0a" stroke="#0a0a0a" stroke-width="0.3">#</text>
<path d="M1418.65 975.8 H1435.15 M1418.65 983 H1435.15 M1426.9 975.8 V983" fill="none" stroke="#ec1c24" stroke-width="3.8"/>
<path d="M1471.75 940.4 H1489.25 M1471.75 958.3 H1489.25 M1480.5 940.4 V958.3" fill="none" stroke="#17803d" stroke-width="3.8"/>
<path d="M1525.85 950.9 H1543.35 M1525.85 973.2 H1543.35 M1534.6 950.9 V973.2" fill="none" stroke="#3b4ba3" stroke-width="3.8"/>
</g>
<g id="panelG">
<line x1="131.2" y1="1236.25" x2="131.2" y2="1432.35" stroke="#0a0a0a" stroke-width="4.1" stroke-linecap="butt"/>
<line x1="123.2" y1="1430.3" x2="131.2" y2="1430.3" stroke="#0a0a0a" stroke-width="4.1" stroke-linecap="butt"/>
<text x="119.6" y="1439.76" font-size="25.6" font-weight="normal" text-anchor="end" fill="#0a0a0a">0</text>
<line x1="123.2" y1="1350.4" x2="131.2" y2="1350.4" stroke="#0a0a0a" stroke-width="4.1" stroke-linecap="butt"/>
<text x="119.6" y="1359.86" font-size="25.6" font-weight="normal" text-anchor="end" fill="#0a0a0a">50</text>
<line x1="123.2" y1="1270.5" x2="131.2" y2="1270.5" stroke="#0a0a0a" stroke-width="4.1" stroke-linecap="butt"/>
<text x="119.6" y="1279.96" font-size="25.6" font-weight="normal" text-anchor="end" fill="#0a0a0a">100</text>
<line x1="123.2" y1="1430.3" x2="397.32" y2="1430.3" stroke="#0a0a0a" stroke-width="4.1" stroke-linecap="butt"/>
<line x1="130.9" y1="1430.3" x2="130.9" y2="1439.1" stroke="#0a0a0a" stroke-width="4.1" stroke-linecap="butt"/>
<line x1="197" y1="1430.3" x2="197" y2="1439.1" stroke="#0a0a0a" stroke-width="4.1" stroke-linecap="butt"/>
<line x1="263.11" y1="1430.3" x2="263.11" y2="1439.1" stroke="#0a0a0a" stroke-width="4.1" stroke-linecap="butt"/>
<line x1="329.22" y1="1430.3" x2="329.22" y2="1439.1" stroke="#0a0a0a" stroke-width="4.1" stroke-linecap="butt"/>
<line x1="395.32" y1="1430.3" x2="395.32" y2="1439.1" stroke="#0a0a0a" stroke-width="4.1" stroke-linecap="butt"/>
<text x="130.9" y="1466.3" font-size="26.1" font-weight="normal" text-anchor="middle" fill="#0a0a0a">0</text>
<text x="197" y="1466.3" font-size="26.1" font-weight="normal" text-anchor="middle" fill="#0a0a0a">30</text>
<text x="263.11" y="1466.3" font-size="26.1" font-weight="normal" text-anchor="middle" fill="#0a0a0a">60</text>
<text x="329.22" y="1466.3" font-size="26.1" font-weight="normal" text-anchor="middle" fill="#0a0a0a">90</text>
<text x="395.32" y="1466.3" font-size="26.1" font-weight="normal" text-anchor="middle" fill="#0a0a0a">120</text>
<text x="263" y="1500.9" font-size="26.8" font-weight="normal" text-anchor="middle" fill="#0a0a0a">Time(min)</text>
<text x="57.6" y="1329" font-size="25.4" font-weight="normal" text-anchor="middle" fill="#0a0a0a" transform="rotate(-90 57.6 1329)">Glucose(% ininitial)</text>
<path d="M159.45 1352 H168.45 M163.95 1352 V1327" fill="none" stroke="#3b55a5" stroke-width="2.3"/>
<path d="M192.5 1364.7 H201.5 M197 1364.7 V1359" fill="none" stroke="#3b55a5" stroke-width="2.3"/>
<path d="M159.45 1339.9 H168.45 M163.95 1339.9 V1322" fill="none" stroke="#6fbe44" stroke-width="2.3"/>
<path d="M192.5 1373.4 H201.5 M197 1373.4 V1359.5" fill="none" stroke="#6fbe44" stroke-width="3"/>
<path d="M390.82 1335.2 H399.82 M395.32 1335.2 V1322" fill="none" stroke="#6fbe44" stroke-width="2.3"/>
<path d="M159.45 1347 H168.45 M163.95 1347 V1325.5" fill="none" stroke="#ec1c24" stroke-width="2.3"/>
<path d="M192.5 1370.6 H201.5 M197 1370.6 V1358.2" fill="none" stroke="#ec1c24" stroke-width="2.3"/>
<path d="M258.61 1370.3 H267.61 M263.11 1370.3 V1353.4" fill="none" stroke="#ec1c24" stroke-width="2.3"/>
<path d="M390.82 1346.7 H399.82 M395.32 1346.7 V1323.8" fill="none" stroke="#ec1c24" stroke-width="2.3"/>
<path d="M159.45 1304.5 H168.45 M163.95 1304.5 V1327.7" fill="none" stroke="#0a0a0a" stroke-width="2.1"/>
<path d="M192.5 1312.9 H201.5 M197 1312.9 V1338.5" fill="none" stroke="#0a0a0a" stroke-width="2.1"/>
<path d="M258.61 1314.1 H267.61 M263.11 1314.1 V1333.3" fill="none" stroke="#0a0a0a" stroke-width="2.1"/>
<path d="M390.82 1314 H399.82 M395.32 1314 V1321.1" fill="none" stroke="#0a0a0a" stroke-width="2.1"/>
<polyline points="130.9,1270.5 163.95,1327 197,1359 263.11,1343.2 395.32,1305.2" fill="none" stroke="#3b55a5" stroke-width="4" stroke-linejoin="round"/>
<polygon points="130.9,1275.97 125.59,1266.62 136.21,1266.62" fill="#3b55a5"/>
<polygon points="163.95,1332.47 158.64,1323.12 169.27,1323.12" fill="#3b55a5"/>
<polygon points="197,1364.47 191.69,1355.12 202.32,1355.12" fill="#3b55a5"/>
<polygon points="263.11,1348.67 257.8,1339.33 268.42,1339.33" fill="#3b55a5"/>
<polygon points="395.32,1310.67 390.01,1301.33 400.63,1301.33" fill="#3b55a5"/>
<polyline points="130.9,1270.5 163.95,1322 197,1359.5 263.11,1346.3 395.32,1322" fill="none" stroke="#6fbe44" stroke-width="4" stroke-linejoin="round"/>
<polygon points="130.9,1265.3 125.9,1274.1 135.9,1274.1" fill="#6fbe44"/>
<polygon points="163.95,1316.8 158.95,1325.6 168.95,1325.6" fill="#6fbe44"/>
<polygon points="197,1354.3 192,1363.1 202,1363.1" fill="#6fbe44"/>
<polygon points="263.11,1341.1 258.11,1349.9 268.11,1349.9" fill="#6fbe44"/>
<polygon points="395.32,1316.8 390.32,1325.6 400.32,1325.6" fill="#6fbe44"/>
<polyline points="130.9,1270.5 163.95,1325.5 197,1358.2 263.11,1353.4 395.32,1323.8" fill="none" stroke="#ec1c24" stroke-width="4" stroke-linejoin="round"/>
<rect x="125.68" y="1265.28" width="10.45" height="10.45" fill="#ec1c24"/>
<rect x="158.73" y="1320.28" width="10.45" height="10.45" fill="#ec1c24"/>
<rect x="191.78" y="1352.98" width="10.45" height="10.45" fill="#ec1c24"/>
<rect x="257.88" y="1348.18" width="10.45" height="10.45" fill="#ec1c24"/>
<rect x="390.1" y="1318.58" width="10.45" height="10.45" fill="#ec1c24"/>
<polyline points="130.9,1270.5 163.95,1327.7 197,1338.5 263.11,1333.3 395.32,1321.1" fill="none" stroke="#0a0a0a" stroke-width="4" stroke-linejoin="round"/>
<circle cx="130.9" cy="1270.5" r="5.3" fill="#0a0a0a"/>
<circle cx="163.95" cy="1327.7" r="5.3" fill="#0a0a0a"/>
<circle cx="197" cy="1338.5" r="5.3" fill="#0a0a0a"/>
<circle cx="263.11" cy="1333.3" r="5.3" fill="#0a0a0a"/>
<circle cx="395.32" cy="1321.1" r="5.3" fill="#0a0a0a"/>
<line x1="149.9" y1="1190" x2="175.9" y2="1190" stroke="#0a0a0a" stroke-width="4" stroke-linecap="butt"/>
<circle cx="162.9" cy="1190" r="5.24" fill="#0a0a0a"/>
<text x="189.8" y="1199.3" font-size="25.6" font-weight="normal" text-anchor="start" fill="#0a0a0a">CtrL</text>
<line x1="149.9" y1="1216.5" x2="175.9" y2="1216.5" stroke="#ec1c24" stroke-width="4" stroke-linecap="butt"/>
<rect x="157.84" y="1211.44" width="10.12" height="10.12" fill="#ec1c24"/>
<text x="189.8" y="1226" font-size="25.6" font-weight="normal" text-anchor="start" fill="#0a0a0a">T</text>
<line x1="149.9" y1="1245.2" x2="175.9" y2="1245.2" stroke="#6fbe44" stroke-width="4" stroke-linecap="butt"/>
<polygon points="162.9,1239.34 157.15,1249.46 168.65,1249.46" fill="#6fbe44"/>
<text x="189.8" y="1255.3" font-size="25.6" font-weight="normal" text-anchor="start" fill="#0a0a0a">C</text>
<line x1="149.9" y1="1272.6" x2="175.9" y2="1272.6" stroke="#3b55a5" stroke-width="4" stroke-linecap="butt"/>
<polygon points="162.9,1278.46 157.15,1268.34 168.65,1268.34" fill="#3b55a5"/>
<text x="189.8" y="1282.7" font-size="25.6" font-weight="normal" text-anchor="start" fill="#0a0a0a">T+<tspan dx="-3.2"> C</tspan></text>
</g>
<g id="panelGb">
<line x1="511.3" y1="1256.8" x2="511.3" y2="1443" stroke="#0a0a0a" stroke-width="2.8" stroke-linecap="butt"/>
<line x1="502.8" y1="1258.2" x2="511.3" y2="1258.2" stroke="#0a0a0a" stroke-width="2.8" stroke-linecap="butt"/>
<line x1="502.8" y1="1319.3" x2="511.3" y2="1319.3" stroke="#0a0a0a" stroke-width="2.8" stroke-linecap="butt"/>
<line x1="502.8" y1="1380.5" x2="511.3" y2="1380.5" stroke="#0a0a0a" stroke-width="2.8" stroke-linecap="butt"/>
<line x1="502.8" y1="1441.6" x2="511.3" y2="1441.6" stroke="#0a0a0a" stroke-width="2.8" stroke-linecap="butt"/>
<line x1="503" y1="1441.6" x2="727.9" y2="1441.6" stroke="#0a0a0a" stroke-width="3" stroke-linecap="butt"/>
<text x="487.8" y="1347.2" font-size="28.7" font-weight="normal" text-anchor="middle" fill="#0a0a0a" transform="rotate(-90 487.8 1347.2)">AUC(mmol/L.min)</text>
<text x="537.58" y="1471.7" font-size="18.6" font-weight="bold" text-anchor="middle" fill="#0a0a0a" letter-spacing="1.75">Ctrl</text>
<text x="592.55" y="1471.7" font-size="18.6" font-weight="bold" text-anchor="middle" fill="#0a0a0a" letter-spacing="0.9">T</text>
<text x="645.15" y="1471.7" font-size="18.6" font-weight="bold" text-anchor="middle" fill="#0a0a0a" letter-spacing="0.9">C</text>
<text x="701.38" y="1471.7" font-size="18.6" font-weight="bold" text-anchor="middle" fill="#0a0a0a" letter-spacing="1.35">T+C</text>
<path d="M521.4 1441.6 V1305.3 H553.5 V1441.6" fill="none" stroke="#0a0a0a" stroke-width="4.2" stroke-linejoin="miter"/>
<path d="M575.7 1441.6 V1324.8 H606.9 V1441.6" fill="none" stroke="#ec1c24" stroke-width="4.2" stroke-linejoin="miter"/>
<path d="M629.4 1441.6 V1311.2 H660.6 V1441.6" fill="none" stroke="#17803d" stroke-width="4.2" stroke-linejoin="miter"/>
<path d="M682.8 1441.6 V1341.1 H714.2 V1441.6" fill="none" stroke="#3b4ba3" stroke-width="4.2" stroke-linejoin="miter"/>
<circle cx="538.4" cy="1273.9" r="6" fill="#0a0a0a"/>
<circle cx="526.9" cy="1304.9" r="6" fill="#0a0a0a"/>
<circle cx="537.8" cy="1311.9" r="6" fill="#0a0a0a"/>
<circle cx="547.5" cy="1318.4" r="6" fill="#0a0a0a"/>
<circle cx="531" cy="1307.5" r="6" fill="#0a0a0a"/>
<rect x="580.85" y="1290.95" width="11.5" height="11.5" fill="#0a0a0a"/>
<rect x="590.25" y="1289.85" width="11.5" height="11.5" fill="#0a0a0a"/>
<rect x="580.25" y="1314.85" width="11.5" height="11.5" fill="#0a0a0a"/>
<rect x="590.25" y="1319.15" width="11.5" height="11.5" fill="#0a0a0a"/>
<rect x="575.45" y="1327.25" width="11.5" height="11.5" fill="#0a0a0a"/>
<rect x="585.25" y="1330.05" width="11.5" height="11.5" fill="#0a0a0a"/>
<rect x="595.45" y="1343.75" width="11.5" height="11.5" fill="#0a0a0a"/>
<polygon points="634,1292.3 627.75,1303.3 640.25,1303.3" fill="#0a0a0a"/>
<polygon points="655.1,1286.8 648.85,1297.8 661.35,1297.8" fill="#0a0a0a"/>
<polygon points="644.2,1298.8 637.95,1309.8 650.45,1309.8" fill="#0a0a0a"/>
<polygon points="633.4,1311.8 627.15,1322.8 639.65,1322.8" fill="#0a0a0a"/>
<polygon points="644.2,1311.8 637.95,1322.8 650.45,1322.8" fill="#0a0a0a"/>
<polygon points="655.1,1320.5 648.85,1331.5 661.35,1331.5" fill="#0a0a0a"/>
<polygon points="688.3,1290.9 682.05,1279.9 694.55,1279.9" fill="#0a0a0a"/>
<polygon points="709,1290.2 702.75,1279.2 715.25,1279.2" fill="#0a0a0a"/>
<polygon points="698.5,1302.2 692.25,1291.2 704.75,1291.2" fill="#0a0a0a"/>
<polygon points="688.3,1390.2 682.05,1379.2 694.55,1379.2" fill="#0a0a0a"/>
<polygon points="698.5,1391.9 692.25,1380.9 704.75,1380.9" fill="#0a0a0a"/>
<polygon points="709,1393.4 702.75,1382.4 715.25,1382.4" fill="#0a0a0a"/>
<path d="M530.9 1293 H546.9 M538.9 1293 V1305" fill="none" stroke="#0a0a0a" stroke-width="3.8"/>
<path d="M583.6 1314.1 H600.6 M583.6 1330.4 H600.6 M592.1 1314.1 V1330.4" fill="none" stroke="#ec1c24" stroke-width="3.8"/>
<path d="M636.2 1303.2 H653.2 M636.2 1311 H653.2 M644.7 1303.2 V1311" fill="none" stroke="#17803d" stroke-width="3.8"/>
<path d="M689.75 1317.3 H707.25 M689.75 1360.3 H707.25 M698.5 1317.3 V1360.3" fill="none" stroke="#3b4ba3" stroke-width="3.8"/>
</g>
</svg>
</body></html>
